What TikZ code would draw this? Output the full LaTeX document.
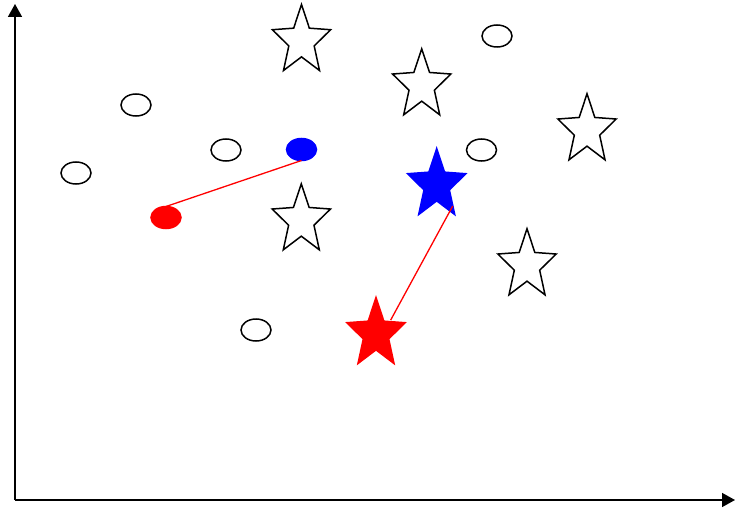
\documentclass[tikz,border=0pt]{standalone}
\usepackage{tikz}
\usetikzlibrary{arrows.meta,shapes.geometric,calc}
\definecolor{hitred}{HTML}{FF0000}
\definecolor{hitblue}{HTML}{0000FF}

\begin{document}
\begin{tikzpicture}[
  x=1pt,y=1pt,
  starpt/.style={star,star points=5,star point ratio=2.3,minimum size=73pt,
                 inner sep=0pt,outer sep=0pt,xscale=0.84,line width=1.5pt},
  hollowstar/.style={starpt,draw=black,fill=white},
  dot/.style={ellipse,minimum width=30pt,minimum height=22pt,inner sep=0pt,
              outer sep=0pt,line width=1.5pt},
  hollowdot/.style={dot,draw=black,fill=white},
  axis/.style={-{Triangle[length=13pt,width=14pt]},line width=1.5pt},
  link/.style={hitred,line width=1.3pt}
]
  \useasboundingbox (0,0) rectangle (736,507);

  % axes
  \coordinate (origin) at (15,7);
  \coordinate (ytip) at (15,503);
  \coordinate (xtip) at (735,7);
  \draw[axis] (origin) -- (ytip);
  \draw[axis] (origin) -- (xtip);

  % plain stars
  \node[hollowstar] (s1) at (301.5,466) {};
  \node[hollowstar] (s2) at (421.7,421.7) {};
  \node[hollowstar] (s3) at (587,376.7) {};
  \node[hollowstar] (s4) at (301.3,286.7) {};
  \node[hollowstar] (s5) at (527,241.7) {};

  % plain ellipses
  \node[hollowdot] (e1) at (497,471) {};
  \node[hollowdot] (e2) at (136,402) {};
  \node[hollowdot] (e3) at (226,357) {};
  \node[hollowdot] (e4) at (76,334) {};
  \node[hollowdot] (e5) at (481.5,357) {};
  \node[hollowdot] (e6) at (256,177) {};

  % marked pairs
  \node[starpt,draw=hitblue,fill=hitblue] (bstar) at (436.7,322) {};
  \node[starpt,draw=hitred,fill=hitred] (rstar) at (376,173) {};
  \node[dot,draw=hitblue,fill=hitblue] (bdot) at (301.5,357.5) {};
  \node[dot,draw=hitred,fill=hitred] (rdot) at (166,289.5) {};

  \draw[link] (rdot.north) -- (bdot.south);
  \draw[link] ($(rstar)+(14.7,14)$) -- ($(bstar)+(16,-21)$);
\end{tikzpicture}
\end{document}
